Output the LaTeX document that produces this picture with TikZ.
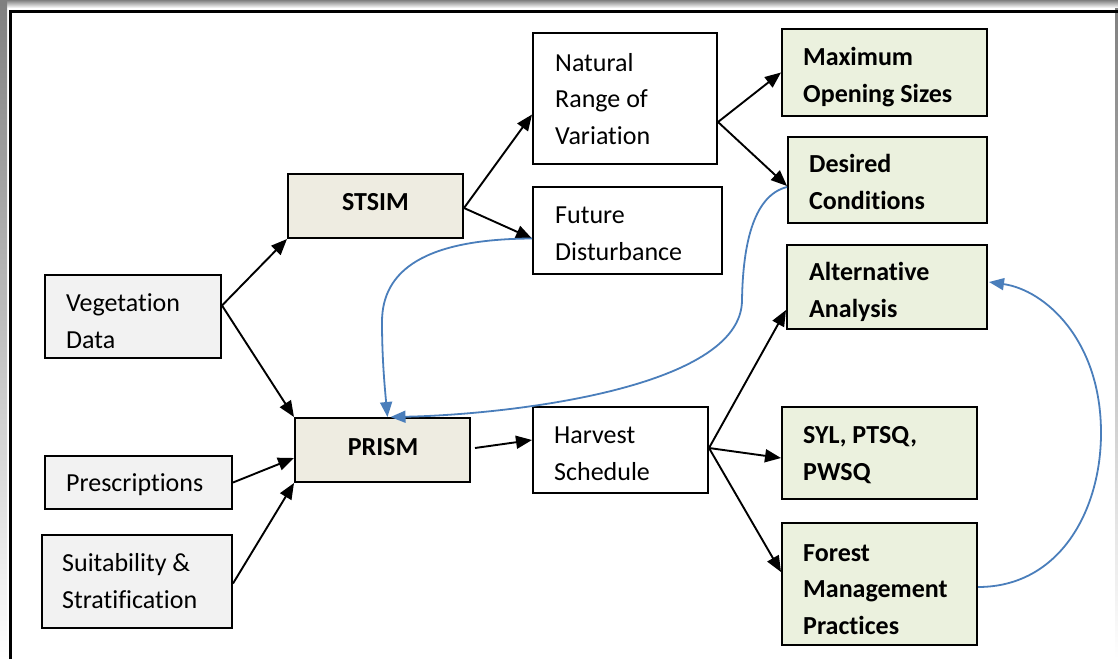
\documentclass[tikz,border=0pt]{standalone}
\usepackage{fontspec}
\setmainfont{Carlito}[Ligatures=NoCommon]
\usetikzlibrary{arrows.meta,calc}
\definecolor{boxgrey}{HTML}{F2F2F2}
\definecolor{boxtan}{HTML}{EEECE1}
\definecolor{boxgreen}{HTML}{EBF1DE}
\definecolor{lineblue}{HTML}{4A7EBB}
\definecolor{shade}{HTML}{F2F2F2}
\begin{document}
\begin{tikzpicture}[x=1pt,y=-1pt,
 box/.style={draw, line width=2pt, inner sep=0pt},
 gbox/.style={box, fill=boxgrey},
 tbox/.style={box, fill=boxtan},
 wbox/.style={box, fill=white},
 obox/.style={box, fill=boxgreen},
 lbl/.style={inner sep=0pt, anchor=base west, align=left, font=\fontsize{26}{36.5}\selectfont},
 blbl/.style={lbl, font=\bfseries\fontsize{26}{36.5}\selectfont},
 arr/.style={-{Triangle[length=16pt,width=13pt]}, line width=1.9pt},
 barr/.style={-{Triangle[length=15pt,width=12pt]}, line width=1.8pt, draw=lineblue}]
\useasboundingbox (0,0) rectangle (1118,659);
\fill[white] (0,0) rectangle (1118,659);
\fill[shade] (0,0) rectangle (1118,8);
\fill[shade] (0,0) rectangle (7,659);
\fill[shade] (1115,8) rectangle (1118,659);
\draw[line width=3pt] (10,659) -- (10,11) -- (1118,11);

% boxes
\node[gbox, minimum width=176pt, minimum height=83pt] (veg) at (133,316.5) {};
\node[gbox, minimum width=187pt, minimum height=53pt] (presc) at (138.5,482.5) {};
\node[gbox, minimum width=190pt, minimum height=93pt] (suit) at (137,581.5) {};
\node[tbox, minimum width=175pt, minimum height=64pt] (stsim) at (375.5,206) {};
\node[tbox, minimum width=175pt, minimum height=64pt] (prism) at (382.5,450) {};
\node[wbox, minimum width=184pt, minimum height=131pt] (nrv) at (625,98.5) {};
\node[wbox, minimum width=189pt, minimum height=87pt] (fut) at (627.5,230.5) {};
\node[wbox, minimum width=175pt, minimum height=86pt] (harv) at (620.5,450) {};
\node[obox, minimum width=205pt, minimum height=87pt] (maxo) at (884.5,72.5) {};
\node[obox, minimum width=199pt, minimum height=86pt] (des) at (887.5,180) {};
\node[obox, minimum width=200pt, minimum height=84pt] (alt) at (887,287) {};
\node[obox, minimum width=195pt, minimum height=92pt] (syl) at (879.5,453) {};
\node[obox, minimum width=195pt, minimum height=122pt] (forest) at (879.5,584) {};

% texts (anchored at the baseline of the last line)
\node[lbl] (vegT) at (66,348) {Vegetation\\Data};
\node[lbl] (prescT) at (66,491) {Prescriptions};
\node[lbl] (suitT) at (62,608) {Suitability \&\\Stratification};
\node[blbl, anchor=base] (stsimT) at (375.5,210) {STSIM};
\node[blbl, anchor=base] (prismT) at (383,455) {PRISM};
\node[lbl] (nrvT) at (555,144) {Natural\\Range of\\Variation};
\node[lbl] (futT) at (555,260) {Future\\Disturbance};
\node[lbl] (harvT) at (554,480) {Harvest\\Schedule};
\node[blbl] (maxoT) at (803,102) {Maximum\\Opening Sizes};
\node[blbl] (desT) at (809,209) {Desired\\Conditions};
\node[blbl] (altT) at (809,317) {Alternative\\Analysis};
\node[blbl] (sylT) at (803,480) {SYL, PTSQ,\\PWSQ};
\node[blbl] (forestT) at (803,634) {Forest\\Management\\Practices};

% black connectors
\coordinate (vegO) at ($(veg.east)+(0,-11)$);
\draw[arr] (vegO) -- (stsim.south west);
\draw[arr] (vegO) -- (prism.north west);
\draw[arr] (presc.east) -- ($(prism.west)+(0,8)$);
\draw[arr] ($(suit.east)+(0,2)$) -- (prism.south west);
\coordinate (stsimO) at ($(stsim.east)+(0,2)$);
\draw[arr] (stsimO) -- ($(nrv.west)+(0,16)$);
\draw[arr] (stsimO) -- ($(fut.west)+(0,8)$);
\coordinate (nrvO) at ($(nrv.east)+(0,23.5)$);
\draw[arr] (nrvO) -- (maxo.west);
\draw[arr] (nrvO) -- ($(des.west)+(0,6)$);
\draw[arr] ($(prism.east)+(4,-2)$) -- ($(harv.west)+(0,-10)$);
\coordinate (harvO) at ($(harv.east)+(0,-2)$);
\draw[arr] (harvO) -- ($(alt.west)+(0,23)$);
\draw[arr] (harvO) -- ($(syl.west)+(0,5)$);
\draw[arr] (harvO) -- ($(forest.west)+(0,-12)$);

% blue connectors
\draw[barr] ($(fut.west)+(0,8)$) .. controls (425,239) and (382,270) .. (382,322)
  .. controls (382,360) and (385,390) .. ($(prism.north)+(5,0)$);
\draw[barr] ($(des.west)+(0,7)$) .. controls (755,195) and (743,240) .. (742,300)
  .. controls (742,390) and (500,415) .. ($(prism.north)+(8,0)$);
\draw[barr] ($(forest.east)+(0,3)$) .. controls (1060,587) and (1101,510) .. (1101,433)
  .. controls (1101,340) and (1045,290) .. ($(alt.east)+(1,-5)$);
\end{tikzpicture}
\end{document}
